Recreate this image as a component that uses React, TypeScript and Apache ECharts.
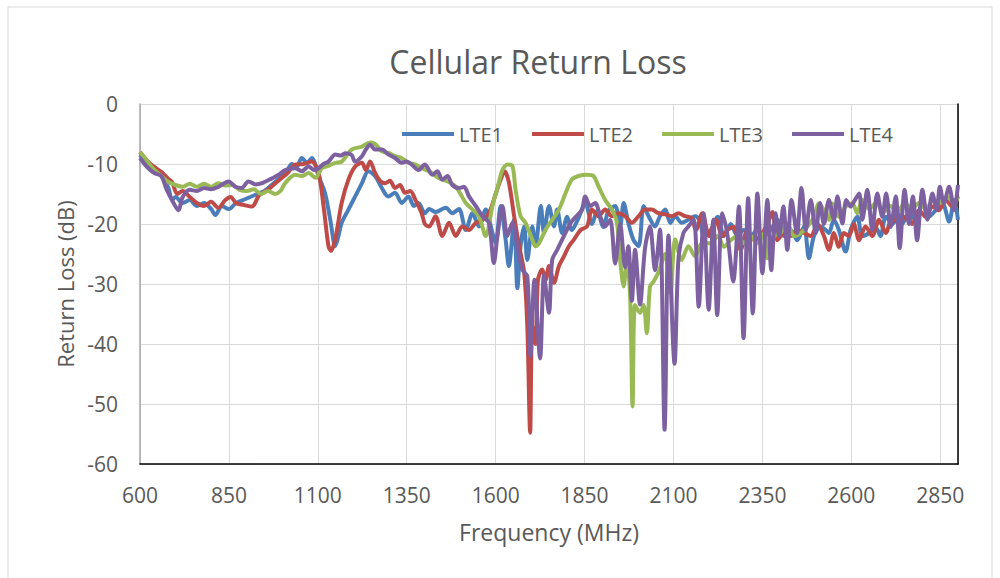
import React, { useEffect, useRef } from "react";
import * as echarts from "echarts";

const seriesNames = ["LTE1", "LTE2", "LTE3", "LTE4"];
const seriesColors = ["#4A7EBB", "#BE4B48", "#98B954", "#7D60A0"];

const lte1: number[][] = [[600,-8.5],[620,-10],[640,-10.5],[660,-12],[680,-14],[690,-16],[700,-15.5],[720,-16.5],[740,-16],[760,-17],[780,-16.5],[800,-17.5],[812,-18.5],[830,-17],[850,-17.5],[870,-16.5],[890,-16],[910,-15.5],[930,-15],[950,-14.5],[970,-13.5],[990,-12.5],[1010,-11.5],[1027,-10],[1040,-10.5],[1055,-9],[1070,-9.8],[1083,-9],[1102,-12],[1120,-14.8],[1135,-19.3],[1149,-23.7],[1158,-22],[1167,-19.8],[1186,-17.6],[1205,-15.4],[1224,-13.2],[1242,-11.2],[1261,-12],[1280,-14],[1298,-15.4],[1317,-14.8],[1336,-16.5],[1355,-15.4],[1370,-17],[1383,-16.5],[1401,-18.2],[1413,-17.5],[1432,-18],[1450,-17.5],[1460,-17.3],[1478,-18.2],[1497,-17.5],[1516,-21],[1535,-18.2],[1553,-20.4],[1572,-17.6],[1591,-21.5],[1600,-23.2],[1614,-17],[1628,-22.6],[1637,-27],[1652,-19.3],[1661,-30.7],[1670,-23.7],[1680,-20.4],[1689,-26],[1703,-20.4],[1712,-23.7],[1727,-17],[1736,-21.5],[1750,-17],[1764,-20.4],[1773,-17.6],[1787,-21.5],[1801,-18.8],[1814,-21],[1833,-19],[1852,-16.5],[1871,-20],[1885,-17.8],[1903,-20.5],[1917,-17.8],[1936,-17],[1950,-20.4],[1960,-16.5],[1973,-19.8],[1987,-22.6],[2002,-23.7],[2016,-17],[2030,-18.7],[2048,-20.4],[2062,-18.7],[2077,-17.6],[2091,-19.8],[2105,-18.7],[2123,-19.8],[2142,-19.3],[2161,-18.7],[2174,-19.5],[2186,-22],[2205,-21],[2224,-18.8],[2242,-22],[2261,-20],[2280,-22],[2298,-21],[2317,-22],[2336,-21],[2355,-22],[2373,-21],[2392,-19.3],[2411,-22],[2430,-21],[2448,-22.7],[2467,-20.4],[2481,-25.7],[2495,-22],[2514,-20.4],[2528,-21],[2537,-21.5],[2551,-19.3],[2565,-21],[2584,-24.6],[2598,-21],[2617,-18.8],[2631,-22],[2650,-21.5],[2668,-20.5],[2682,-22],[2697,-18.8],[2715,-20],[2729,-17.7],[2743,-20],[2762,-18.2],[2781,-19.3],[2800,-16.5],[2818,-18.8],[2837,-17.7],[2856,-16.5],[2875,-19.6],[2889,-16],[2900,-19.3]];

const lte2: number[][] = [[600,-8],[620,-9.5],[640,-10.5],[660,-11.3],[680,-12.5],[690,-13],[705,-15],[720,-14.5],[740,-15.5],[760,-16.5],[780,-17],[800,-16.3],[820,-17.3],[840,-16],[855,-15.5],[870,-16.5],[890,-16.8],[915,-17.1],[935,-15.2],[955,-14.5],[975,-13.5],[995,-12.5],[1015,-11.5],[1036,-10.1],[1060,-10],[1083,-9.6],[1102,-11.5],[1116,-17],[1130,-23.7],[1137,-24.5],[1149,-22.5],[1167,-16.5],[1186,-12.6],[1205,-10.4],[1224,-9.8],[1235,-11],[1247,-9.6],[1261,-11.5],[1275,-12.8],[1289,-13.2],[1303,-12.8],[1317,-14],[1331,-13.5],[1345,-14.8],[1360,-14.5],[1373,-15.8],[1392,-18.2],[1401,-20],[1413,-20.4],[1431,-18.7],[1450,-22],[1469,-19.8],[1488,-22],[1506,-20.4],[1525,-21],[1544,-19.8],[1563,-19.3],[1581,-18.2],[1600,-15],[1614,-12.6],[1625,-11.2],[1637,-13],[1652,-18.7],[1666,-23.7],[1680,-28],[1689,-37],[1697,-54.8],[1703,-37],[1712,-40],[1719,-29.3],[1731,-27.6],[1741,-29.3],[1750,-27],[1764,-29.8],[1778,-27],[1792,-25.4],[1806,-23.7],[1820,-22.6],[1839,-21],[1857,-20.4],[1871,-17.6],[1889,-18.7],[1908,-17.6],[1927,-18.7],[1945,-18.2],[1964,-18.7],[1983,-19.8],[2002,-18.7],[2020,-17.6],[2039,-17.6],[2058,-18.2],[2077,-18.4],[2095,-18.7],[2114,-18.2],[2133,-18.7],[2151,-19],[2163,-21],[2181,-18.2],[2200,-22],[2219,-19.3],[2238,-22],[2252,-21],[2270,-20.5],[2289,-24.3],[2308,-21],[2327,-22.7],[2345,-22],[2364,-20],[2378,-18],[2392,-22.7],[2411,-21.5],[2430,-22],[2448,-21],[2467,-21.5],[2486,-22],[2505,-20],[2523,-22],[2537,-24.3],[2551,-21.5],[2565,-23.8],[2579,-21.5],[2593,-22],[2607,-20],[2622,-22.7],[2640,-20.4],[2659,-22],[2678,-19.3],[2697,-21.5],[2715,-18.8],[2734,-20],[2753,-18.8],[2771,-20],[2790,-17.7],[2809,-18.8],[2828,-17.1],[2846,-17.7],[2865,-16],[2884,-17.1],[2900,-15.4]];

const lte3: number[][] = [[600,-8],[620,-9.5],[640,-11],[660,-12],[680,-13],[700,-13.5],[720,-13.8],[740,-13.3],[760,-13.8],[780,-13.3],[800,-13.8],[820,-13.2],[840,-13.6],[860,-13.5],[880,-14.3],[900,-14.5],[920,-14.2],[940,-15],[960,-14.5],[980,-15],[995,-14.5],[1008,-13.2],[1036,-11.8],[1055,-12],[1074,-11.5],[1093,-12.3],[1111,-10.7],[1130,-10.3],[1149,-9.8],[1167,-9.6],[1195,-7.6],[1224,-7.1],[1247,-6.4],[1260,-6.6],[1280,-7.9],[1300,-8.2],[1317,-8.7],[1335,-9],[1355,-9.8],[1375,-10.1],[1392,-10.7],[1413,-11.2],[1431,-12],[1450,-12.6],[1469,-13],[1488,-13.8],[1506,-15.5],[1516,-16.5],[1535,-17.6],[1553,-18.7],[1572,-22],[1591,-17],[1605,-14],[1619,-11],[1633,-10.1],[1647,-10.3],[1656,-14.3],[1670,-18.7],[1684,-19.8],[1703,-22.6],[1712,-23.7],[1722,-23.2],[1740,-21],[1759,-19.3],[1778,-17.6],[1797,-14.8],[1814,-12.6],[1833,-12],[1857,-11.8],[1875,-12],[1889,-13.7],[1908,-16],[1927,-17.6],[1941,-19.8],[1950,-26],[1960,-30.4],[1969,-26],[1978,-31.9],[1985,-50.4],[1992,-33.5],[2006,-34.8],[2016,-33.5],[2025,-38.2],[2034,-30.4],[2044,-29.6],[2058,-28],[2077,-25],[2091,-31.5],[2105,-22.6],[2123,-26],[2142,-23.7],[2161,-25.4],[2180,-23.2],[2205,-23.2],[2224,-22],[2242,-23.8],[2261,-22.7],[2280,-22],[2298,-23.2],[2317,-22],[2336,-23.2],[2355,-21.5],[2364,-25.7],[2383,-22],[2401,-21.5],[2420,-19.9],[2439,-22],[2458,-21.5],[2477,-20.4],[2495,-18.8],[2509,-16.6],[2523,-17.7],[2537,-19.3],[2547,-16.6],[2565,-18.8],[2584,-17.1],[2603,-16.6],[2617,-18.2],[2631,-16],[2650,-17.5],[2670,-16.5],[2690,-18],[2710,-17],[2730,-18],[2750,-16.5],[2770,-17.5],[2790,-16.5],[2810,-17.5],[2830,-16],[2850,-16.5],[2870,-15.5],[2890,-16.5],[2900,-15.5]];

const lte4: number[][] = [[600,-9],[620,-10.5],[640,-11.5],[660,-12],[675,-14.3],[690,-16],[708,-17.7],[720,-15.5],[740,-14.3],[760,-14.5],[780,-14],[800,-14.2],[820,-13.8],[849,-12.9],[868,-13.8],[886,-14],[905,-12.9],[925,-13.4],[943,-13.2],[971,-12.4],[990,-11.8],[1008,-11],[1036,-10.7],[1055,-11.2],[1074,-10.4],[1090,-11],[1102,-10.7],[1116,-10],[1130,-9.6],[1149,-8.4],[1165,-8.6],[1177,-8.2],[1195,-8.5],[1205,-9.6],[1224,-8.7],[1236,-7.5],[1247,-6.8],[1261,-7.6],[1280,-7.6],[1298,-8.4],[1317,-9],[1336,-9.8],[1350,-9.6],[1364,-10.1],[1383,-11],[1401,-10.1],[1422,-11.8],[1436,-11.2],[1450,-12.6],[1465,-12],[1478,-13.5],[1497,-14],[1511,-13.8],[1525,-15.4],[1544,-17],[1563,-18.7],[1581,-19.8],[1595,-26.5],[1605,-22],[1619,-17],[1633,-22],[1647,-19.8],[1661,-23.7],[1675,-27.6],[1689,-28.7],[1698,-42],[1709,-29.3],[1725,-42.4],[1736,-28.5],[1750,-34.8],[1759,-26],[1773,-24.3],[1792,-22],[1811,-19.8],[1830,-18.5],[1843,-17.6],[1852,-15.4],[1866,-17],[1880,-16.5],[1894,-18.7],[1908,-20.4],[1922,-19.3],[1936,-26.6],[1950,-20],[1964,-27.2],[1973,-23.7],[1983,-32.8],[1992,-24.3],[2006,-33.4],[2020,-24],[2034,-20.4],[2048,-27.7],[2062,-20.9],[2075,-54.3],[2086,-21.9],[2103,-43.3],[2114,-25.8],[2128,-21.5],[2142,-20.4],[2157,-19.3],[2171,-33.8],[2185,-18.2],[2199,-34.3],[2212,-19.3],[2223,-35.2],[2237,-18.2],[2251,-21.5],[2268,-29.6],[2284,-17.1],[2297,-39],[2310,-15.7],[2323,-34.9],[2336,-14.9],[2350,-28.2],[2364,-16],[2375,-27.7],[2387,-18.2],[2397,-22],[2409,-17.1],[2420,-24.3],[2432,-16],[2447,-21.5],[2460,-14],[2472,-21],[2486,-16],[2500,-21.5],[2512,-16.5],[2523,-20],[2537,-16],[2551,-19.3],[2561,-15.4],[2575,-19.9],[2586,-16],[2598,-17.1],[2607,-16.3],[2622,-14.9],[2631,-19.3],[2645,-14.3],[2659,-21],[2673,-14.9],[2687,-18.8],[2698,-14.9],[2711,-20.5],[2725,-15.4],[2736,-24],[2750,-14.3],[2762,-20],[2773,-15.4],[2785,-22.7],[2800,-14.3],[2814,-19.3],[2828,-14.9],[2840,-17.7],[2849,-13.8],[2860,-16.5],[2875,-13.8],[2889,-17.7],[2900,-13.5]];

const seriesData = [lte1, lte2, lte3, lte4];

const xMin = 600;
const xMax = 2900;
const xStep = 250;
const yMin = -60;
const yMax = 0;
const yStep = 10;

const FONT = "'Open Sans', 'Noto Sans', sans-serif";
const TEXT = "#595959";

export default function App() {
  const ref = useRef<HTMLDivElement>(null);
  useEffect(() => {
    if (!ref.current) return;
    const chart = echarts.init(ref.current, undefined, { renderer: "svg" });
    chart.setOption({
      animation: false,
      backgroundColor: "#ffffff",
      textStyle: { fontFamily: FONT },
      title: {
        text: "Cellular Return Loss",
        left: 533,
        textAlign: "center",
        top: 40,
        textStyle: { fontFamily: FONT, fontSize: 32, fontWeight: "normal", color: TEXT },
      },
      legend: {
        data: seriesNames,
        left: 397,
        top: 119,
        icon: "rect",
        itemWidth: 52,
        itemHeight: 4,
        itemGap: 29,
        textStyle: { fontFamily: FONT, fontSize: 20, color: TEXT },
      },
      grid: { left: 140, right: 42, top: 104, bottom: 114, containLabel: false },
      xAxis: {
        type: "value",
        min: xMin,
        max: xMax,
        interval: xStep,
        name: "Frequency (MHz)",
        nameLocation: "middle",
        nameGap: 56,
        nameTextStyle: { fontFamily: FONT, fontSize: 23, color: TEXT },
        axisLine: { show: true, onZero: false, lineStyle: { color: "#000000", width: 1.5 } },
        axisTick: { show: false },
        axisLabel: {
          fontFamily: FONT,
          fontSize: 21,
          color: TEXT,
          margin: 20,
          showMaxLabel: false,
          formatter: (v: number) => String(v),
        },
        splitLine: { show: true, lineStyle: { color: "#d9d9d9", width: 1 } },
      },
      yAxis: [
        {
          type: "value",
          min: yMin,
          max: yMax,
          interval: yStep,
          name: "Return Loss (dB)",
          nameLocation: "middle",
          nameGap: 64,
          nameTextStyle: { fontFamily: FONT, fontSize: 22, color: TEXT },
          axisLine: { show: true, onZero: false, lineStyle: { color: "#a6a6a6", width: 1.5 } },
          axisTick: { show: false },
          axisLabel: { fontFamily: FONT, fontSize: 21, color: TEXT, margin: 22, formatter: (v: number) => String(v) },
          splitLine: { show: true, lineStyle: { color: "#d9d9d9", width: 1 } },
        },
        {
          type: "value",
          position: "right",
          min: yMin,
          max: yMax,
          interval: yStep,
          axisLine: { show: true, onZero: false, lineStyle: { color: "#000000", width: 1.5 } },
          axisTick: { show: false },
          axisLabel: { show: false },
          splitLine: { show: false },
        },
      ],
      graphic: [
        {
          type: "rect",
          shape: { x: 8, y: 7, width: 984, height: 600 },
          style: { fill: "none", stroke: "#d9d9d9", lineWidth: 1 },
          silent: true,
          z: -10,
        },
      ],
      series: seriesNames.map((name, i) => ({
        name,
        type: "line",
        data: seriesData[i],
        yAxisIndex: 0,
        symbol: "none",
        smooth: 0.3,
        clip: true,
        lineStyle: { color: seriesColors[i], width: 4 },
        itemStyle: { color: seriesColors[i] },
      })),
    });
    return () => chart.dispose();
  }, []);
  return (
    <div
      ref={ref}
      style={{ position: "absolute", left: 0, top: 0, width: 1000, height: 578 }}
    />
  );
}
